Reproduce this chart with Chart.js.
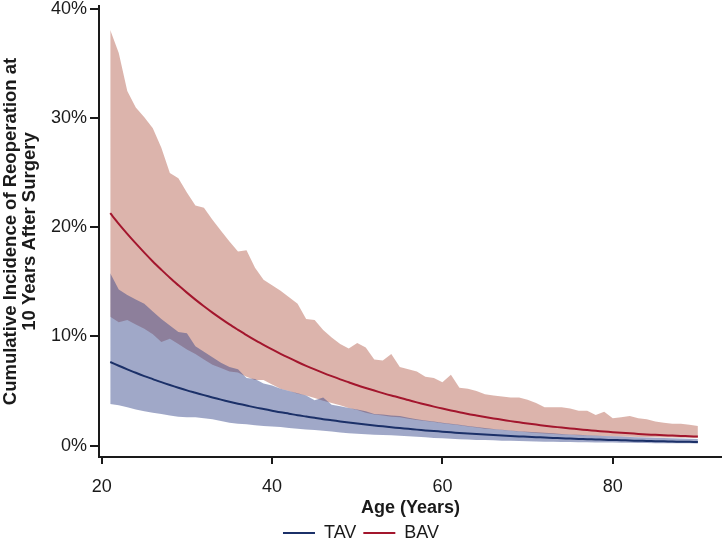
<!DOCTYPE html>
<html>
<head>
<meta charset="utf-8">
<script src="https://cdn.jsdelivr.net/npm/chart.js@4.4.1/dist/chart.umd.min.js"></script>
<style>
  html, body { margin: 0; padding: 0; background: #fff; }
  #wrap { width: 722px; height: 544px; }
</style>
</head>
<body>
<div id="wrap"><canvas id="chart" width="722" height="544"></canvas></div>
<script>
'use strict';
// ages 21..90, one value per year (percent)
const ages = [21,22,23,24,25,26,27,28,29,30,31,32,33,34,35,36,37,38,39,40,41,42,43,44,45,46,47,48,49,50,51,52,53,54,55,56,57,58,59,60,61,62,63,64,65,66,67,68,69,70,71,72,73,74,75,76,77,78,79,80,81,82,83,84,85,86,87,88,89,90];

const tavMean = [7.66,7.32,6.99,6.67,6.37,6.09,5.81,5.55,5.30,5.06,4.84,4.62,4.41,4.21,4.02,3.84,3.67,3.50,3.35,3.20,3.05,2.92,2.78,2.66,2.54,2.42,2.32,2.21,2.11,2.02,1.93,1.84,1.76,1.68,1.60,1.53,1.46,1.39,1.33,1.27,1.21,1.16,1.11,1.06,1.01,0.97,0.92,0.88,0.84,0.80,0.77,0.73,0.70,0.67,0.64,0.61,0.58,0.56,0.53,0.51,0.49,0.46,0.44,0.42,0.40,0.39,0.37,0.35,0.34,0.32];
const tavUpper = [15.8,14.3,13.8,13.4,13.0,12.3,11.6,11.0,10.4,10.3,9.1,8.6,8.1,7.6,7.2,7.0,6.2,6.1,5.7,5.5,5.2,5.0,4.8,4.6,4.15,4.4,3.75,3.6,3.45,3.3,3.15,2.9,2.85,2.75,2.7,2.55,2.4,2.3,2.2,2.1,2.0,1.9,1.8,1.7,1.6,1.52,1.45,1.38,1.32,1.26,1.22,1.18,1.12,1.07,1.02,0.98,0.95,0.91,0.88,0.85,0.82,0.79,0.76,0.74,0.71,0.69,0.67,0.65,0.63,0.61];
const tavLower = [3.8,3.7,3.5,3.3,3.15,3.0,2.9,2.75,2.65,2.6,2.6,2.5,2.4,2.25,2.1,2.0,1.95,1.85,1.8,1.75,1.7,1.62,1.55,1.48,1.42,1.35,1.28,1.2,1.12,1.08,1.04,1.0,0.97,0.94,0.9,0.86,0.8,0.75,0.7,0.66,0.62,0.58,0.55,0.52,0.5,0.48,0.45,0.43,0.41,0.39,0.37,0.35,0.34,0.33,0.32,0.31,0.3,0.29,0.28,0.27,0.26,0.25,0.24,0.23,0.22,0.22,0.21,0.2,0.2,0.19];

const bavMean = [21.3,20.33,19.41,18.53,17.69,16.88,16.12,15.38,14.69,14.02,13.38,12.77,12.19,11.64,11.11,10.61,10.12,9.66,9.23,8.81,8.41,8.03,7.66,7.31,6.98,6.66,6.36,6.07,5.80,5.53,5.28,5.04,4.81,4.59,4.39,4.17,3.96,3.76,3.57,3.39,3.22,3.06,2.90,2.76,2.62,2.49,2.36,2.24,2.13,2.02,1.92,1.82,1.73,1.65,1.57,1.49,1.42,1.35,1.29,1.23,1.17,1.12,1.07,1.02,0.98,0.94,0.91,0.88,0.85,0.83];
const bavUpper = [38.1,36.0,32.5,31.0,30.1,29.1,27.3,25.0,24.5,23.2,22.0,21.8,20.7,19.7,18.7,17.8,17.9,16.3,15.2,14.7,14.2,13.6,13.0,11.6,11.5,10.6,9.9,9.3,8.9,9.4,9.0,7.9,7.8,8.4,7.2,7.0,6.8,6.3,6.2,5.8,6.5,5.3,5.2,5.0,4.7,4.6,4.5,4.4,4.4,4.2,3.9,3.5,3.5,3.5,3.4,3.2,3.2,2.8,3.1,2.5,2.6,2.7,2.5,2.4,2.2,2.1,2.0,2.0,1.9,1.8];
const bavLower = [11.8,11.3,11.5,11.1,10.7,10.2,9.5,9.8,9.3,8.8,8.4,7.9,7.4,7.1,6.8,6.7,6.3,6.0,6.0,5.6,5.2,5.0,4.75,4.6,4.35,4.1,3.9,3.7,3.45,3.25,3.0,2.85,2.75,2.65,2.6,2.45,2.35,2.25,2.15,2.05,1.95,1.85,1.75,1.65,1.55,1.5,1.42,1.35,1.28,1.22,1.16,1.1,1.06,1.02,0.98,0.95,0.92,0.9,0.87,0.85,0.83,0.81,0.79,0.77,0.75,0.74,0.73,0.72,0.71,0.70];

const xTicks = [20, 40, 60, 80];
const yTicks = [0, 10, 20, 30, 40];
const seriesNames = ['TAV', 'BAV'];

const TAV_LINE = 'rgb(27,48,104)';
const BAV_LINE = 'rgb(163,22,45)';
const TAV_FILL = 'rgba(48,66,135,0.46)';
const BAV_FILL = 'rgba(179,92,75,0.46)';
const AXIS = '#1a1a1a';
const FONT = "'Liberation Sans', Arial, Helvetica, sans-serif";

const pts = (arr) => arr.map((v, i) => ({ x: ages[i], y: v }));

const band = (arr, fill, target, order) => ({
  label: '', data: pts(arr), borderWidth: 0, pointRadius: 0, tension: 0,
  backgroundColor: fill, fill: target === null ? false : { target: target }, order: order
});

const datasets = [
  { label: seriesNames[0], data: pts(tavMean), borderColor: TAV_LINE, backgroundColor: TAV_LINE,
    borderWidth: 2, pointRadius: 0, tension: 0.3, fill: false, order: 0 },
  { label: seriesNames[1], data: pts(bavMean), borderColor: BAV_LINE, backgroundColor: BAV_LINE,
    borderWidth: 2, pointRadius: 0, tension: 0.3, fill: false, order: 1 },
  band(tavUpper, TAV_FILL, 3, 2),
  band(tavLower, TAV_FILL, null, 3),
  band(bavUpper, BAV_FILL, 5, 4),
  band(bavLower, BAV_FILL, null, 5)
];

new Chart(document.getElementById('chart'), {
  type: 'line',
  data: { datasets },
  options: {
    responsive: false,
    animation: false,
    layout: { padding: { top: 6, right: 0, bottom: -8, left: 0 } },
    plugins: {
      tooltip: { enabled: false },
      legend: {
        position: 'bottom',
        labels: {
          font: { family: FONT, size: 18 },
          color: '#1a1a1a',
          boxWidth: 32, boxHeight: 2, padding: 7,
          generateLabels: (chart) => [0, 1].map(i => {
            const ds = chart.data.datasets[i];
            return { text: ds.label, fillStyle: ds.borderColor, strokeStyle: ds.borderColor,
                     lineWidth: 0, hidden: false, datasetIndex: i, fontColor: '#1a1a1a' };
          })
        }
      }
    },
    scales: {
      x: {
        type: 'linear', min: 19.68, max: 92.83,
        afterBuildTicks: (s) => { s.ticks = xTicks.map(v => ({ value: v })); },
        afterFit: (s) => { s.height = 60; },
        ticks: { font: { family: FONT, size: 18 }, color: '#1a1a1a', padding: 12, maxRotation: 0 },
        grid: { display: true, drawOnChartArea: false, drawTicks: true, tickLength: 7, color: AXIS, lineWidth: 2 },
        border: { display: true, color: AXIS, width: 2 },
        title: { display: true, text: 'Age (Years)', color: '#1a1a1a',
                 font: { family: FONT, size: 18, weight: 'bold', lineHeight: 1 }, padding: { top: 0, bottom: 0 } }
      },
      y: {
        type: 'linear', min: -1.05, max: 40.3,
        afterBuildTicks: (s) => { s.ticks = yTicks.map(v => ({ value: v })); },
        afterFit: (s) => { s.width = 99; s.paddingTop = 0; s.paddingBottom = 0; },
        ticks: { font: { family: FONT, size: 18 }, color: '#1a1a1a', padding: 3,
                 callback: (v) => v + '%' },
        grid: { display: true, drawOnChartArea: false, drawTicks: true, tickLength: 9, color: AXIS, lineWidth: 2 },
        border: { display: true, color: AXIS, width: 2 },
        title: { display: true, text: ['Cumulative Incidence of Reoperation at', '10 Years After Surgery'],
                 color: '#1a1a1a', font: { family: FONT, size: 18.5, weight: 'bold', lineHeight: 1 },
                 padding: { top: 2, bottom: 0 } }
      }
    }
  }
});
</script>
</body>
</html>
